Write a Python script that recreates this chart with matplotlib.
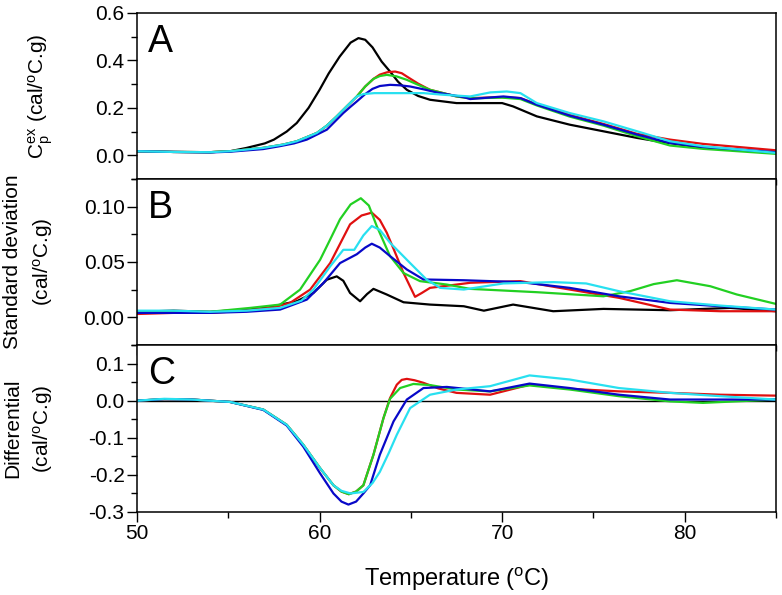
import matplotlib
matplotlib.use("Agg")
import matplotlib.pyplot as plt
from matplotlib.ticker import MultipleLocator

plt.rcParams["font.family"] = ["Liberation Sans", "DejaVu Sans"]
plt.rcParams["mathtext.fontset"] = "custom"
plt.rcParams["mathtext.rm"] = "Liberation Sans"
plt.rcParams["mathtext.it"] = "Liberation Sans:italic"

# ---- panel A: excess heat capacity (cal/oC.g) ----
a_black_T = [50, 52, 54, 55.1, 56.0, 57.0, 57.5, 58.2, 58.75, 59.4, 60.0, 60.5, 61.1, 61.7, 62.13, 62.5,
             62.9, 63.4, 63.86, 64.3, 64.78, 65.4, 66.05, 67.5, 69.3, 70.0, 70.6, 71.9, 73.7, 75.55,
             77.4, 78.5, 81.0, 85]
a_black_v = [0.017, 0.014, 0.013, 0.017, 0.031, 0.05, 0.066, 0.1, 0.136, 0.2, 0.276, 0.345, 0.416, 0.475, 0.494, 0.487,
             0.455, 0.395, 0.353, 0.31, 0.276, 0.25, 0.234, 0.22, 0.22, 0.22, 0.206, 0.164, 0.129, 0.101,
             0.073, 0.059, 0.031, 0.010]

a_red_T = [50, 52, 54, 55.1, 56.9, 58.0, 58.75, 59.85, 60.4, 60.94, 61.5, 62.04, 62.5, 62.95, 63.3, 63.7, 64.14,
           64.5, 64.78, 65.4, 66.05, 67.5, 68.25, 70.0, 71.0, 71.9, 73.7, 75.55, 77.4, 79.2, 81.0, 85]
a_red_v = [0.017, 0.014, 0.013, 0.017, 0.031, 0.045, 0.059, 0.094, 0.125, 0.164, 0.207, 0.248, 0.29, 0.322, 0.34, 0.35, 0.353,
           0.346, 0.332, 0.302, 0.276, 0.248, 0.241, 0.245, 0.241, 0.215, 0.17, 0.132, 0.09, 0.066, 0.048, 0.021]

a_green_T = [50, 52, 54, 55.1, 56.9, 58.0, 58.75, 59.85, 60.4, 60.94, 61.5, 62.04, 62.5, 62.95, 63.3, 63.68, 64.2,
             64.78, 65.4, 66.05, 67.5, 68.25, 70.0, 71.0, 71.9, 73.7, 75.55, 77.4, 79.2, 81.0, 85]
a_green_v = [0.017, 0.014, 0.013, 0.017, 0.031, 0.045, 0.059, 0.094, 0.125, 0.164, 0.207, 0.248, 0.29, 0.322, 0.334, 0.339, 0.333,
             0.318, 0.297, 0.276, 0.248, 0.24, 0.243, 0.237, 0.21, 0.163, 0.125, 0.080, 0.041, 0.027, 0.006]

a_blue_T = [50, 52, 54, 55.1, 56.9, 57.8, 58.6, 59.3, 60.4, 61.3, 61.7, 62.04, 62.5, 62.9, 63.3, 63.86, 64.4, 64.96,
            65.7, 66.4, 67.9, 68.25, 70.07, 71.0, 71.9, 73.7, 75.55, 77.4, 79.2, 81.0, 85]
a_blue_v = [0.017, 0.014, 0.012, 0.015, 0.026, 0.038, 0.05, 0.066, 0.108, 0.178, 0.205, 0.227, 0.258, 0.28, 0.292, 0.297, 0.295, 0.29,
            0.278, 0.265, 0.245, 0.237, 0.248, 0.241, 0.213, 0.167, 0.129, 0.087, 0.052, 0.035, 0.013]

a_cyan_T = [50, 52, 54, 55.1, 56.9, 58.0, 58.75, 59.85, 60.4, 60.94, 61.5, 62.04, 62.4, 63.0, 64.0, 65.7, 66.8,
            68.25, 69.35, 70.25, 71.0, 71.9, 73.7, 75.55, 77.4, 79.2, 81.0, 85]
a_cyan_v = [0.017, 0.014, 0.013, 0.017, 0.031, 0.045, 0.059, 0.094, 0.125, 0.164, 0.207, 0.248, 0.258, 0.262, 0.262, 0.262, 0.255,
            0.248, 0.265, 0.269, 0.262, 0.22, 0.178, 0.143, 0.101, 0.059, 0.038, 0.010]

# ---- panel B: standard deviation (cal/oC.g) ----
b_black_T = [50, 52, 54, 56, 57, 58.75, 59.66, 60.4, 60.94, 61.3, 61.67, 62.22, 62.6, 62.95, 63.68,
             64.6, 66.05, 67.9, 69.0, 70.6, 72.8, 75.55, 79.2, 82.5, 85]
b_black_v = [0.005, 0.006, 0.005, 0.007, 0.0085, 0.0145, 0.022, 0.034, 0.037, 0.033, 0.022, 0.0145, 0.021, 0.0257, 0.0206,
             0.0136, 0.0115, 0.010, 0.006, 0.0115, 0.0055, 0.0076, 0.0064, 0.0085, 0.0055]

b_red_T = [50, 52, 54, 56, 57.5, 58.38, 59.48, 60.58, 61.67, 62.3, 62.86, 63.3, 63.68, 64.1, 64.6, 65.23, 65.6,
           66.05, 67.5, 68.25, 71.0, 73.7, 76.4, 79.2, 81.95, 85]
b_red_v = [0.003, 0.004, 0.004, 0.006, 0.009, 0.013, 0.025, 0.049, 0.084, 0.092, 0.0946, 0.088, 0.0765, 0.06, 0.040, 0.0185, 0.022,
           0.0266, 0.0296, 0.0312, 0.0327, 0.0251, 0.0176, 0.007, 0.0055, 0.0055]

b_green_T = [50, 52, 54, 56.2, 57.84, 58.93, 60.03, 60.6, 61.12, 61.7, 62.26, 62.7, 63.13, 63.86, 64.6, 65.5, 66.97,
             68.25, 71.9, 75.55, 77.0, 78.3, 79.57, 81.4, 82.86, 85]
b_green_v = [0.005, 0.005, 0.005, 0.0085, 0.0115, 0.025, 0.052, 0.071, 0.0886, 0.102, 0.1076, 0.101, 0.0825, 0.0553, 0.040, 0.0327, 0.0296,
             0.0257, 0.0227, 0.019, 0.0236, 0.03, 0.0335, 0.0281, 0.0206, 0.0121]

b_blue_T = [50, 52, 54, 56, 57.84, 59.3, 60.21, 61.12, 62.04, 62.5, 62.86, 63.3, 63.86, 64.78, 65.69, 67.9,
            71.0, 73.7, 76.4, 79.2, 81.95, 85]
b_blue_v = [0.004, 0.004, 0.004, 0.005, 0.007, 0.016, 0.031, 0.049, 0.057, 0.063, 0.0665, 0.063, 0.0553, 0.0432, 0.0342, 0.0335,
            0.0318, 0.0266, 0.019, 0.013, 0.010, 0.007]

b_cyan_T = [50, 52, 54, 56, 57.84, 59.0, 59.66, 60.58, 61.3, 61.9, 62.4, 62.86, 63.3, 63.86, 64.96, 65.87, 66.6,
            67.9, 70.07, 72.8, 74.6, 76.4, 79.2, 81.95, 85]
b_cyan_v = [0.006, 0.006, 0.005, 0.006, 0.0085, 0.015, 0.025, 0.046, 0.061, 0.061, 0.074, 0.0825, 0.079, 0.0674, 0.049, 0.034, 0.0266,
            0.0251, 0.0306, 0.0318, 0.0306, 0.0236, 0.0145, 0.0106, 0.007]

# ---- panel C: differential (cal/oC.g) ----
c_red_T = [50, 51.5, 53, 55.1, 56.92, 58.2, 59.11, 60.03, 60.76, 61.2, 61.6, 62.0, 62.4, 62.95,
           63.5, 63.86, 64.23, 64.5, 64.78, 65.2, 65.69, 66.5, 67.5, 69.34, 71.5, 73.7, 76.4, 79.2, 81.95, 85]
c_red_v = [0.0, 0.004, 0.003, -0.0035, -0.024, -0.065, -0.119, -0.182, -0.228, -0.245, -0.252, -0.245, -0.228, -0.146,
           -0.047, 0.007, 0.043, 0.056, 0.0587, 0.055, 0.048, 0.033, 0.021, 0.016, 0.043, 0.032, 0.025, 0.021, 0.016, 0.0135]

c_green_T = [50, 51.5, 53, 55.1, 56.92, 58.2, 59.11, 60.03, 60.76, 61.2, 61.6, 62.0, 62.4, 62.95,
             63.5, 63.86, 64.41, 65.14, 66.05, 67.5, 69.34, 71.5, 73.7, 76.4, 79.2, 81.0, 85]
c_green_v = [0.0, 0.004, 0.003, -0.0035, -0.024, -0.065, -0.119, -0.182, -0.228, -0.245, -0.252, -0.245, -0.228, -0.146,
             -0.047, 0.005, 0.034, 0.045, 0.042, 0.03, 0.025, 0.041, 0.030, 0.012, -0.002, -0.006, 0.003]

c_blue_T = [50, 51.5, 53, 55.1, 56.92, 58.2, 59.11, 60.03, 60.76, 61.2, 61.58, 62.0, 62.4, 62.77,
            63.3, 64.05, 64.78, 65.69, 66.97, 69.34, 71.5, 73.7, 76.4, 79.2, 85]
c_blue_v = [0.0, 0.004, 0.003, -0.0035, -0.025, -0.067, -0.124, -0.196, -0.25, -0.272, -0.280, -0.272, -0.25, -0.228,
            -0.146, -0.056, 0.003, 0.034, 0.037, 0.025, 0.046, 0.034, 0.016, 0.003, 0.003]

c_cyan_T = [50, 51.5, 53, 55.1, 56.92, 58.2, 59.11, 60.03, 60.76, 61.2, 61.7, 62.4, 62.9, 63.3, 63.8, 64.23,
            64.96, 66.05, 67.5, 69.34, 71.5, 73.7, 76.4, 79.2, 81.95, 85]
c_cyan_v = [0.0, 0.005, 0.003, -0.0035, -0.024, -0.065, -0.119, -0.182, -0.228, -0.243, -0.25, -0.246, -0.222, -0.192, -0.14, -0.092,
            -0.020, 0.016, 0.030, 0.039, 0.068, 0.057, 0.034, 0.021, 0.012, 0.003]

COLORS = {"black": "#000000", "red": "#e01010", "green": "#22d022", "blue": "#0808c8", "cyan": "#28e0f0"}

fig = plt.figure(figsize=(7.82, 5.95), dpi=100)
left, width = 0.1752, 0.8171
axA = fig.add_axes([left, 0.6992, width, 0.2790])
axB = fig.add_axes([left, 0.4202, width, 0.2790])
axC = fig.add_axes([left, 0.1395, width, 0.2807])

lw = 1.6
axA.plot(a_black_T, a_black_v, color=COLORS["black"], lw=lw)
axA.plot(a_red_T, a_red_v, color=COLORS["red"], lw=lw)
axA.plot(a_green_T, a_green_v, color=COLORS["green"], lw=lw)
axA.plot(a_blue_T, a_blue_v, color=COLORS["blue"], lw=lw)
axA.plot(a_cyan_T, a_cyan_v, color=COLORS["cyan"], lw=lw)

axB.plot(b_black_T, b_black_v, color=COLORS["black"], lw=lw)
axB.plot(b_red_T, b_red_v, color=COLORS["red"], lw=lw)
axB.plot(b_green_T, b_green_v, color=COLORS["green"], lw=lw)
axB.plot(b_blue_T, b_blue_v, color=COLORS["blue"], lw=lw)
axB.plot(b_cyan_T, b_cyan_v, color=COLORS["cyan"], lw=lw)

axC.axhline(0, color="black", lw=1.0)
axC.plot(c_red_T, c_red_v, color=COLORS["red"], lw=lw)
axC.plot(c_green_T, c_green_v, color=COLORS["green"], lw=lw)
axC.plot(c_blue_T, c_blue_v, color=COLORS["blue"], lw=lw)
axC.plot(c_cyan_T, c_cyan_v, color=COLORS["cyan"], lw=lw)

axA.set_ylim(-0.1, 0.6)
axB.set_ylim(-0.025, 0.125)
axC.set_ylim(-0.3, 0.15)
axA.yaxis.set_minor_locator(MultipleLocator(0.1))
axB.yaxis.set_minor_locator(MultipleLocator(0.025))
axC.yaxis.set_minor_locator(MultipleLocator(0.05))
axA.set_yticks([0.0, 0.2, 0.4, 0.6])
axB.set_yticks([0.0, 0.05, 0.10])
axC.set_yticks([-0.3, -0.2, -0.1, 0.0, 0.1])
axA.yaxis.set_major_formatter(plt.FormatStrFormatter("%.1f"))
axB.yaxis.set_major_formatter(plt.FormatStrFormatter("%.2f"))
axC.yaxis.set_major_formatter(plt.FormatStrFormatter("%.1f"))

for ax in (axA, axB, axC):
    ax.set_xlim(50, 85)
    ax.xaxis.set_major_locator(MultipleLocator(10))
    ax.xaxis.set_minor_locator(MultipleLocator(5))
    ax.tick_params(which="major", direction="out", length=7, width=1, labelsize=15, pad=2)
    ax.tick_params(which="minor", direction="out", length=4, width=1)
    ax.tick_params(axis="both", which="both", top=False, right=False)
    for s in ax.spines.values():
        s.set_linewidth(1.1)
    ax.yaxis.set_label_coords(-0.128, 0.5)

axA.tick_params(axis="x", labelbottom=False)
axB.tick_params(axis="x", labelbottom=False)

axA.set_ylabel(r"C$\mathregular{_p^{ex}}$ (cal/$\mathregular{^o}$C.g)", fontsize=15)
axB.set_ylabel("Standard deviation\n" + r"(cal/$\mathregular{^o}$C.g)", fontsize=15, linespacing=1.5)
axC.set_ylabel("Differential\n" + r"(cal/$\mathregular{^o}$C.g)", fontsize=15, linespacing=1.5)
axC.set_xlabel(r"Temperature ($\mathregular{^o}$C)", fontsize=17, labelpad=16)

for ax, letter in ((axA, "A"), (axB, "B"), (axC, "C")):
    ax.text(0.017, 0.935, letter, transform=ax.transAxes, fontsize=27, va="top", ha="left")

fig.savefig("out.png", dpi=100)
